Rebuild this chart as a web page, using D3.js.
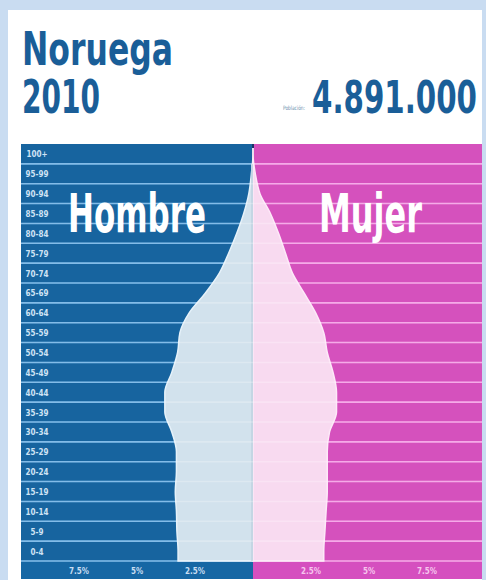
<!DOCTYPE html>
<html><head><meta charset="utf-8">
<script src="https://cdn.jsdelivr.net/npm/d3@7"></script>
<style>html,body{margin:0;padding:0;background:#c9dcf1;}svg{display:block;}</style>
</head><body>
<svg id="c" width="486" height="580"></svg>
<script>
const ages = ["0-4","5-9","10-14","15-19","20-24","25-29","30-34","35-39","40-44","45-49","50-54","55-59","60-64","65-69","70-74","75-79","80-84","85-89","90-94","95-99","100+"];
const male   = [3.23,3.28,3.30,3.35,3.30,3.30,3.50,3.80,3.80,3.50,3.25,3.15,2.75,2.05,1.45,1.05,0.70,0.40,0.18,0.07,0];
const female = [3.05,3.10,3.15,3.20,3.20,3.20,3.30,3.60,3.60,3.45,3.20,3.05,2.70,2.20,1.70,1.40,1.10,0.75,0.30,0.10,0];
const ticks = [2.5,5,7.5];
const tickLabels = ["2.5%","5%","7.5%"];
const title1 = "Noruega", title2 = "2010", popLabel = "Población:", popValue = "4.891.000";

(function(){
const svg = d3.select("#c");
const cx = 253, pLeft = 21, pRight = 482, pTop = 144, pBottom = 561, stripBottom = 579;
const blue = "#17649f", pink = "#d551bd";

svg.append("rect").attr("x",8).attr("y",10).attr("width",474).attr("height",570).attr("fill","#ffffff");

const y = d3.scaleBand().domain(ages.slice().reverse()).range([pTop,pBottom]).padding(0);
const xL = d3.scaleLinear().domain([0,10]).range([cx, cx-232]);
const xR = d3.scaleLinear().domain([0,10]).range([cx, cx+232]);

svg.append("rect").attr("x",pLeft).attr("y",pTop).attr("width",cx-pLeft).attr("height",stripBottom-pTop).attr("fill",blue);
svg.append("rect").attr("x",cx).attr("y",pTop).attr("width",pRight-cx).attr("height",stripBottom-pTop).attr("fill",pink);
svg.append("line").attr("x1",cx).attr("x2",cx).attr("y1",pTop).attr("y2",pBottom).attr("stroke","#1b3566").attr("stroke-width",2);

const bounds = ages.slice(0,20).map(a => y(a));
bounds.push(pBottom);
svg.append("g").selectAll("line").data(bounds).join("line")
  .attr("x1",pLeft).attr("x2",cx).attr("y1",d=>d).attr("y2",d=>d)
  .attr("stroke","#5aa6e0").attr("stroke-width",1.6);
svg.append("g").selectAll("line").data(bounds).join("line")
  .attr("x1",cx).attr("x2",pRight).attr("y1",d=>d).attr("y2",d=>d)
  .attr("stroke","#f28ee0").attr("stroke-width",1.6);

function pts(vals){
  const p = ages.map((a,i)=>({y:y(a)+y.bandwidth()/2, v:vals[i]}));
  p.unshift({y:pBottom, v:vals[0]});
  p.push({y:pTop+4, v:0});
  return p;
}
const areaL = d3.area().y(d=>d.y).x0(cx).x1(d=>xL(d.v)).curve(d3.curveMonotoneY);
const areaR = d3.area().y(d=>d.y).x0(cx).x1(d=>xR(d.v)).curve(d3.curveMonotoneY);
svg.append("path").attr("d",areaL(pts(male))).attr("fill","#d2e2ed").attr("stroke","#e6f2fa").attr("stroke-width",1.5);
svg.append("path").attr("d",areaR(pts(female))).attr("fill","#f8daf0").attr("stroke","#fde9f8").attr("stroke-width",1.5);
svg.append("line").attr("x1",cx-1).attr("x2",cx-1).attr("y1",pTop+20).attr("y2",pBottom).attr("stroke","#c4d6e4").attr("stroke-width",2);
svg.append("g").selectAll("line").data(bounds).join("line")
  .attr("x1",pLeft).attr("x2",pRight).attr("y1",d=>d).attr("y2",d=>d)
  .attr("stroke","#ffffff").attr("stroke-opacity",0.25).attr("stroke-width",1.6);

svg.append("rect").attr("x",pLeft).attr("y",pBottom+1).attr("width",cx-pLeft).attr("height",stripBottom-pBottom-1).attr("fill","#1667a4");
svg.append("rect").attr("x",cx).attr("y",pBottom+1).attr("width",pRight-cx).attr("height",stripBottom-pBottom-1).attr("fill","#d54fbf");
const axF = "'DejaVu Sans Condensed','DejaVu Sans',sans-serif";
svg.append("g").selectAll("text").data(ticks).join("text")
  .attr("x",d=>xL(d)).attr("y",574).attr("text-anchor","middle")
  .attr("font-family",axF).attr("font-size",8).attr("font-weight","bold").attr("fill","#c8def2")
  .text((d,i)=>tickLabels[i]);
svg.append("g").selectAll("text").data(ticks).join("text")
  .attr("x",d=>xR(d)).attr("y",574).attr("text-anchor","middle")
  .attr("font-family",axF).attr("font-size",8).attr("font-weight","bold").attr("fill","#f7c6ee")
  .text((d,i)=>tickLabels[i]);

svg.append("g").selectAll("text").data(ages).join("text")
  .attr("x",37).attr("y",a=>y(a)+y.bandwidth()/2+3.5).attr("text-anchor","middle")
  .attr("font-family",axF).attr("font-size",8).attr("font-weight","bold").attr("fill","#cfe3f5")
  .text(a=>a);

const bigF = "'DejaVu Sans Condensed','DejaVu Sans',sans-serif";
svg.append("text").attr("x",68).attr("y",232).attr("font-family",bigF).attr("font-weight","bold")
  .attr("font-size",54).attr("fill","#ffffff").attr("textLength",138).attr("lengthAdjust","spacingAndGlyphs").text("Hombre");
svg.append("text").attr("x",319).attr("y",232).attr("font-family",bigF).attr("font-weight","bold")
  .attr("font-size",54).attr("fill","#ffffff").attr("textLength",103).attr("lengthAdjust","spacingAndGlyphs").text("Mujer");

const tc = "#1a5e98";
svg.append("text").attr("x",22).attr("y",65).attr("font-family",bigF).attr("font-weight","bold")
  .attr("font-size",47).attr("fill",tc).attr("textLength",151).attr("lengthAdjust","spacingAndGlyphs").text(title1);
svg.append("text").attr("x",22).attr("y",113).attr("font-family",bigF).attr("font-weight","bold")
  .attr("font-size",47).attr("fill",tc).attr("textLength",78).attr("lengthAdjust","spacingAndGlyphs").text(title2);
// population value: horizontally compressed via transform
const pv = svg.append("text").attr("text-anchor","end").attr("font-family",bigF).attr("font-weight","bold")
  .attr("font-size",44).attr("fill",tc).text(popValue);
const nat = pv.node().getComputedTextLength();
const sx = 165 / nat;
pv.attr("transform",`translate(477,113) scale(${sx},1)`);
svg.append("text").attr("x",283).attr("y",110).attr("font-family",axF)
  .attr("font-size",6).attr("fill","#6d8fae").attr("textLength",22).attr("lengthAdjust","spacingAndGlyphs").text(popLabel);
})();
</script>
</body></html>
